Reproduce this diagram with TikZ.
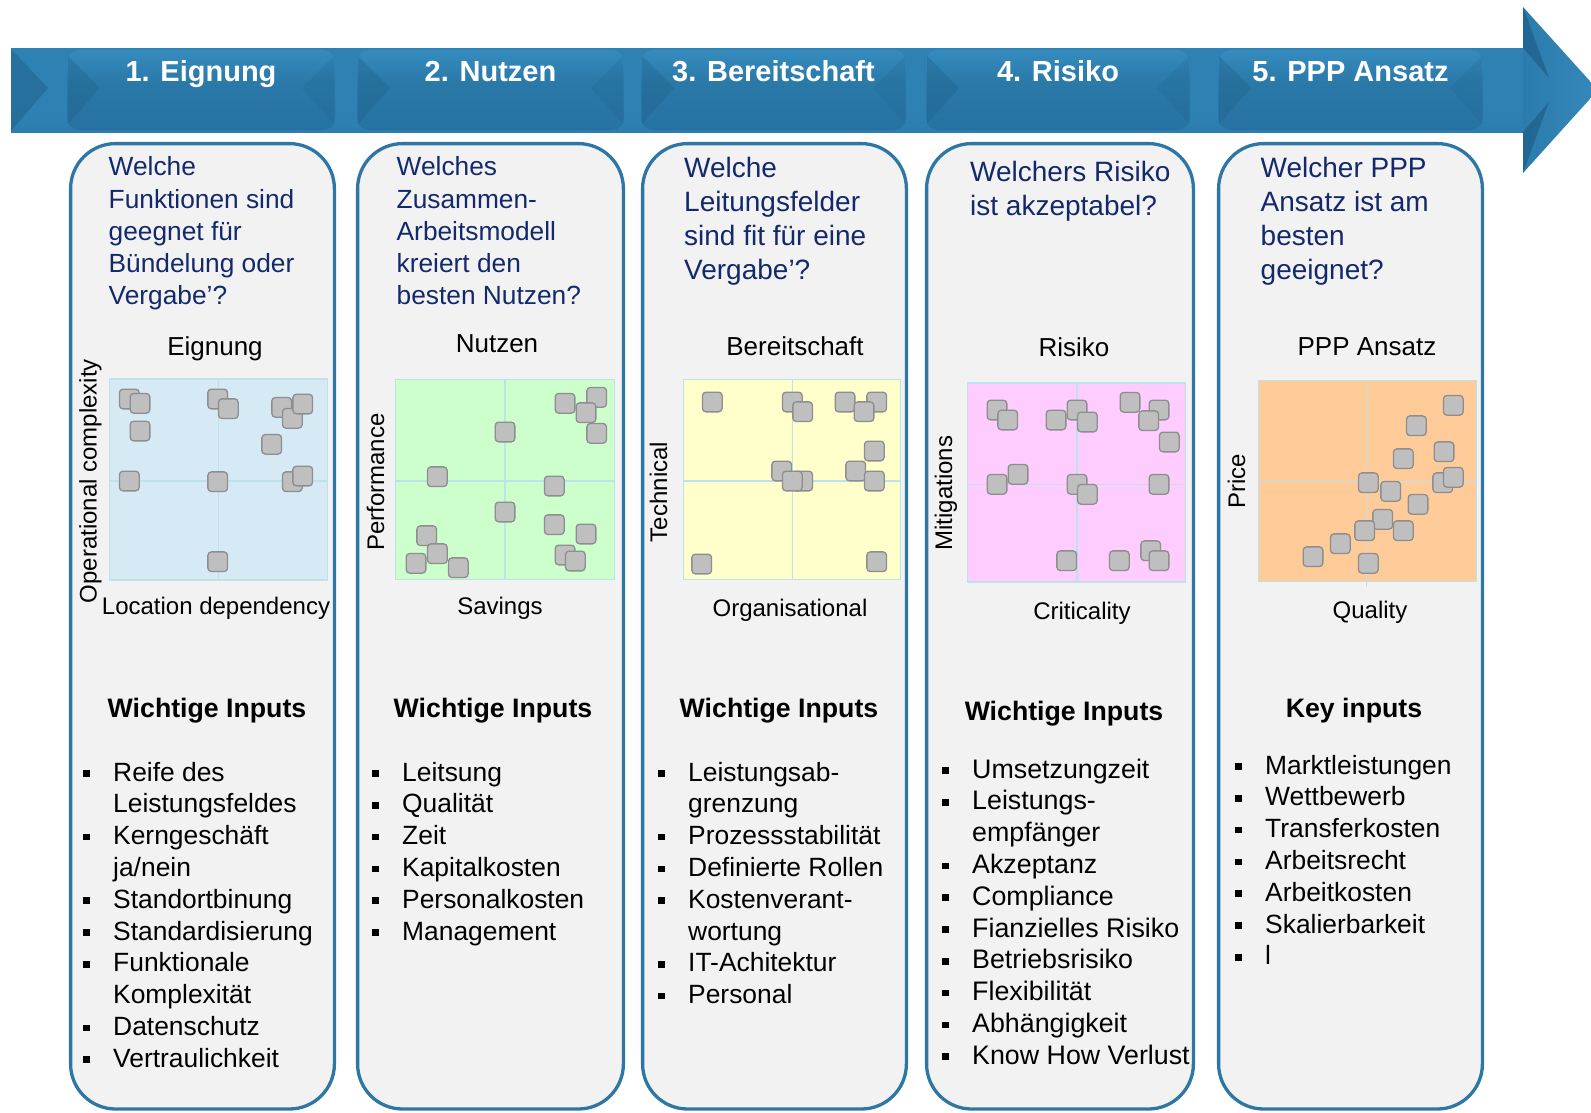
\documentclass[tikz,border=0pt]{standalone}
\usepackage{fontspec}
\setmainfont{Liberation Sans}
\usetikzlibrary{calc}
\definecolor{pnlblue}{HTML}{2E77A5}
\definecolor{pnlgray}{HTML}{F2F2F2}
\definecolor{qblue}{HTML}{13296B}
\definecolor{sqfill}{HTML}{BFBFBF}
\definecolor{sqdraw}{HTML}{8E8E8E}
\definecolor{chline}{HTML}{BCE2EA}
\definecolor{chblue}{HTML}{D6EAF6}
\definecolor{chgreen}{HTML}{CCFFCC}
\definecolor{chyellow}{HTML}{FFFFCC}
\definecolor{chpink}{HTML}{FFCCFF}
\definecolor{chorange}{HTML}{FFCC99}
\definecolor{bandtop}{HTML}{62BDEB}
\definecolor{bandmid}{HTML}{2E82B3}
\definecolor{bandbot}{HTML}{2876A6}
\definecolor{tabtop}{HTML}{3B95CA}
\definecolor{tabmid}{HTML}{2A79A9}
\definecolor{tabbot}{HTML}{246C9B}
\definecolor{bevdark}{HTML}{1E5F88}
\definecolor{arrowc}{HTML}{2B7CAC}
\definecolor{arrowlt}{HTML}{3588BA}
\pgfdeclareverticalshading{bandsh}{100bp}{color(0bp)=(bandbot); color(40bp)=(bandmid); color(88bp)=(bandmid); color(95bp)=(bandtop); color(100bp)=(bandtop)}
\pgfdeclareverticalshading{tabsh}{100bp}{color(0bp)=(tabbot); color(55bp)=(tabmid); color(85bp)=(tabtop); color(100bp)=(bandtop)}
\newcommand\bulit{\strut\makebox[30pt][l]{\raisebox{4.35pt}{\rule{6.7pt}{6.7pt}}}}
\newcommand\contl{\strut\hspace*{30pt}}
\begin{document}
\begin{tikzpicture}[x=1pt,y=-1pt,
  panel/.style={draw=pnlblue,line width=3.3pt,fill=pnlgray,rounded corners=45pt},
  sq/.style={draw=sqdraw,fill=sqfill,line width=1.3pt,rounded corners=3.5pt,minimum size=19.7pt,inner sep=0pt},
  chart/.style={draw=chline,line width=1.2pt,inner sep=0pt},
  midline/.style={draw=chline,line width=1.2pt},
  tabtext/.style={text=white,font=\fontsize{29}{34}\selectfont\bfseries,anchor=base,inner sep=0pt},
  qtext/.style={text=qblue,font=\fontsize{26.3}{32.3}\selectfont,align=left,anchor=north west,inner sep=0pt},
  qtextb/.style={text=qblue,font=\fontsize{28}{34}\selectfont,align=left,anchor=north west,inner sep=0pt},
  ctitle/.style={font=\fontsize{26}{31}\selectfont,anchor=base,inner sep=0pt},
  axlab/.style={font=\fontsize{24}{29}\selectfont,anchor=base,inner sep=0pt},
  ylab/.style={axlab,rotate=90},
  ihead/.style={font=\fontsize{26.7}{31}\selectfont\bfseries,anchor=base,inner sep=0pt},
  blist/.style={font=\fontsize{26.4}{31.8}\selectfont,align=left,anchor=north west,inner sep=0pt},
]
\useasboundingbox (0,0) rectangle (1591,1112);
\fill[white] (0,0) rectangle (1591,1112);

% ---- arrow band ----
\shade[shading=bandsh] (11,48) rectangle (1530,132);
\fill[bevdark,opacity=0.5] (11,49) -- (48,88) -- (11,131) -- cycle;
\shade[left color=arrowc,right color=arrowlt] (1523,7) -- (1598,90) -- (1523,173) -- cycle;
\fill[bevdark,opacity=0.7] (1523,7) -- (1549,78) -- (1523,48) -- cycle;
\fill[bevdark,opacity=0.7] (1523,173) -- (1549,102) -- (1523,132) -- cycle;

\foreach \a/\b/\t [count=\i] in {67/335/{1. Eignung},357/624/{2. Nutzen},641/906/{3. Bereitschaft},926/1190/{4. Risiko},1218/1483/{5. PPP Ansatz}}{
  \shade[shading=tabsh,rounded corners=12pt] (\a,50) rectangle (\b,130);
  \fill[bevdark,opacity=0.35] (\a+1,56) -- (\a+33,88) -- (\a+1,124) -- cycle;
  \fill[bevdark,opacity=0.2] (\b-1,56) -- (\b-33,88) -- (\b-1,124) -- cycle;
  \node[tabtext] (tab\i) at ({(\a+\b)/2},81) {\t};
}

% ---- panels ----
\foreach \a/\b in {70.6/334.4,357.6/623.4,642.6/906.4,926.6/1193.4,1218.6/1482.4}
  \draw[panel] (\a,143.6) rectangle (\b,1109);

% ---- questions ----
\node[qtext] (q1) at (108.5,152.9) {\strut Welche\\\strut Funktionen sind\\\strut geegnet für\\\strut Bündelung oder\\\strut Vergabe’?};
\node[qtext] (q2) at (396.5,152.9) {\strut Welches\\\strut Zusammen-\\\strut Arbeitsmodell\\\strut kreiert den\\\strut besten Nutzen?};
\node[qtextb] (q3) at (684,153) {\strut Welche\\\strut Leitungsfelder\\\strut sind fit für eine\\\strut Vergabe’?};
\node[qtextb] (q4) at (970,157.2) {\strut Welchers Risiko\\\strut ist akzeptabel?};
\node[qtextb] (q5) at (1260.5,153) {\strut Welcher PPP\\\strut Ansatz ist am\\\strut besten\\\strut geeignet?};

% ---- chart titles ----
\node[ctitle] (ct1) at (215,355) {Eignung};
\node[ctitle] (ct2) at (497,352) {Nutzen};
\node[ctitle] (ct3) at (795,355) {Bereitschaft};
\node[ctitle] (ct4) at (1074,356) {Risiko};
\node[ctitle] (ct5) at (1367,355) {PPP Ansatz};

% ---- charts ----
\node[chart,fill=chblue,minimum width=218pt,minimum height=201pt] (ch1) at (218.2,479.5) {};
\draw[midline] (ch1.north) -- (ch1.south);
\draw[midline] (ch1.west |- 0,481) -- (ch1.east |- 0,481);
\node[chart,fill=chgreen,minimum width=219pt,minimum height=200pt] (ch2) at (505,479.5) {};
\draw[midline] (ch2.north) -- (ch2.south);
\draw[midline] (ch2.west |- 0,481) -- (ch2.east |- 0,481);
\node[chart,fill=chyellow,minimum width=217pt,minimum height=200pt] (ch3) at (792,479.5) {};
\draw[midline] (792.7,379) -- (792.7,580);
\draw[midline] (ch3.west |- 0,481) -- (ch3.east |- 0,481);
\node[chart,fill=chpink,minimum width=218pt,minimum height=199pt] (ch4) at (1076.5,482.5) {};
\draw[midline] (1077,382.5) -- (1077,582.5);
\draw[midline] (ch4.west |- 0,484.3) -- (ch4.east |- 0,484.3);
\node[chart,fill=chorange,minimum width=217.7pt,minimum height=200.7pt] (ch5) at (1367.6,480.8) {};
\draw[midline] (1366.7,385) -- (1366.7,587);
\draw[midline] (ch5.west |- 0,481.7) -- (ch5.east |- 0,481.7);

% ---- squares ----
\foreach \x/\y [count=\i] in {129.3/399,140/403.3,140/431,217.7/399,228.3/408.7,281.7/407.3,292.3/418.3,302.7/404,271.7/444.3,129.3/481,217.7/481.7,292.3/481.7,302.7/476,217.7/561.7}
  \node[sq] (sa\i) at (\x,\y) {};
\foreach \x/\y [count=\i] in {596.7/397.3,565/403.3,586/412.7,596.7/433.3,505/432,437.3/476.7,554.3/486,505/512,554.3/524.7,586/534,565/555,575.3/561,426.7/535.7,437.3/553.7,416/563.3,458.3/567.7}
  \node[sq] (sb\i) at (\x,\y) {};
\foreach \x/\y [count=\i] in {712.3/402,792.3/402,802.7/411.7,845/402,876.7/402,864/411.7,874.3/451,781.7/471,802.7/481,792.3/481,855.7/471,874.3/481,701.7/564,876.7/561.7}
  \node[sq] (sc\i) at (\x,\y) {};
\foreach \x/\y [count=\i] in {997/410,1007.7/420,1056/420,1077/410,1087.3/422,1130/402.3,1159/410,1148.7/420.7,1169.3/442,997/484.3,1018/474.3,1077/484.3,1087.3/494.3,1159/484.3,1066.7/560.7,1119.3/560.7,1150.7/550.7,1159/560.7}
  \node[sq] (sd\i) at (\x,\y) {};
\foreach \x/\y [count=\i] in {1453.3/405.3,1416.3/425.7,1444/451.7,1403.3/458.7,1368.3/482.7,1390.7/491.3,1442.7/482.7,1453.3/477.3,1418/504.3,1382.7/519.3,1364.7/530.7,1403.3/530.7,1340.3/543.7,1313/556.7,1368.3/563.3}
  \node[sq] (se\i) at (\x,\y) {};

% ---- axis labels ----
\node[axlab] (xa1) at (216,614) {Location dependency};
\node[axlab] (xa2) at (500,614) {Savings};
\node[axlab] (xa3) at (790,616) {Organisational};
\node[axlab] (xa4) at (1082,619) {Criticality};
\node[axlab] (xa5) at (1370,618) {Quality};
\node[ylab] (ya1) at (96.7,481) {Operational complexity};
\node[ylab] (ya2) at (384,482) {Performance};
\node[ylab] (ya3) at (667,492) {Technical};
\node[ylab] (ya4) at (952,493) {Mitigations};
\node[ylab] (ya5) at (1245,481) {Price};

% ---- inputs ----
\node[ihead] (ih1) at (207,717) {Wichtige Inputs};
\node[ihead] (ih2) at (493,717) {Wichtige Inputs};
\node[ihead] (ih3) at (779,717) {Wichtige Inputs};
\node[ihead] (ih4) at (1064,720) {Wichtige Inputs};
\node[ihead] (ih5) at (1354,717) {Key inputs};

\node[blist] (bl1) at (83,758.7) {\bulit Reife des\\\contl Leistungsfeldes\\\bulit Kerngeschäft\\\contl ja/nein\\\bulit Standortbinung\\\bulit Standardisierung\\\bulit Funktionale\\\contl Komplexität\\\bulit Datenschutz\\\bulit Vertraulichkeit};
\node[blist] (bl2) at (372,758.7) {\bulit Leitsung\\\bulit Qualität\\\bulit Zeit\\\bulit Kapitalkosten\\\bulit Personalkosten\\\bulit Management};
\node[blist] (bl3) at (658,758.7) {\bulit Leistungsab-\\\contl grenzung\\\bulit Prozessstabilität\\\bulit Definierte Rollen\\\bulit Kostenverant-\\\contl wortung\\\bulit IT-Achitektur\\\bulit Personal};
\node[blist,font=\fontsize{26.8}{31.8}\selectfont] (bl4) at (942,755.7) {\bulit Umsetzungzeit\\\bulit Leistungs-\\\contl empfänger\\\bulit Akzeptanz\\\bulit Compliance\\\bulit Fianzielles Risiko\\\bulit Betriebsrisiko\\\bulit Flexibilität\\\bulit Abhängigkeit\\\bulit Know How Verlust};
\node[blist] (bl5) at (1235,751.7) {\bulit Marktleistungen\\\bulit Wettbewerb\\\bulit Transferkosten\\\bulit Arbeitsrecht\\\bulit Arbeitkosten\\\bulit Skalierbarkeit\\\bulit l};
\end{tikzpicture}
\end{document}
